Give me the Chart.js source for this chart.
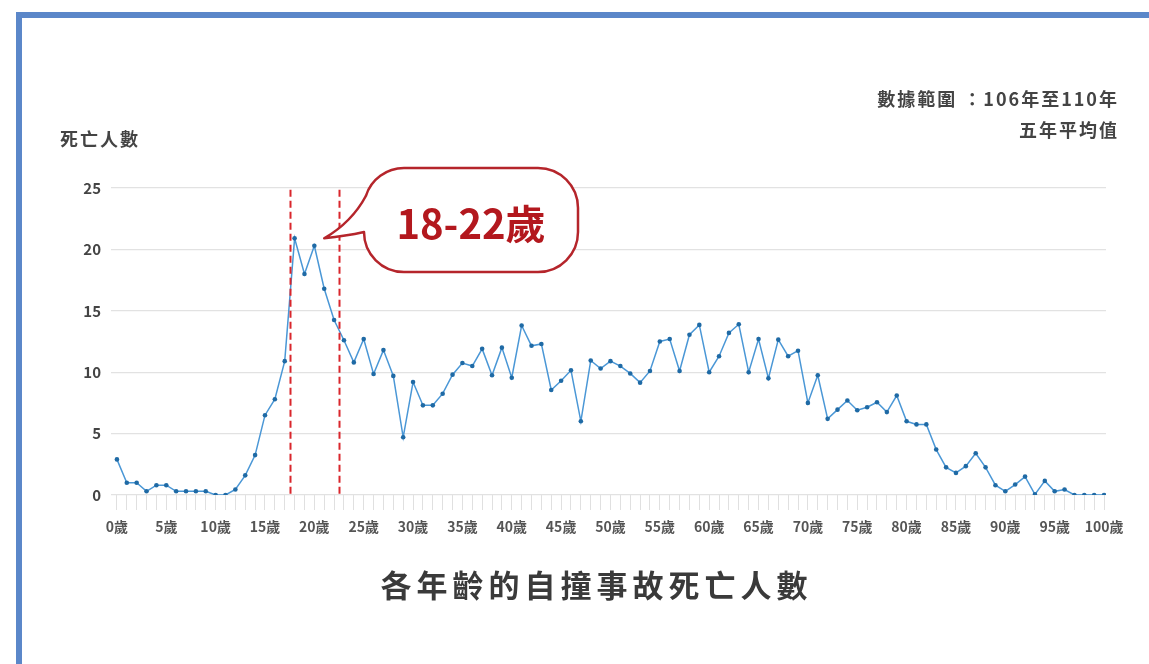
<!DOCTYPE html>
<html lang="zh-Hant">
<head>
    <meta charset="UTF-8">
    <title>各年齡的自撞事故死亡人數</title>
    <script src="https://cdn.jsdelivr.net/npm/chart.js"></script>
    <style>
        body { margin: 0; background: #fff; font-family: "Noto Sans CJK TC", "Noto Sans", sans-serif; }
        #page { position: relative; width: 1149px; height: 664px; overflow: hidden; background: #fff; }
        .frame-top { position: absolute; left: 16px; top: 12px; width: 1133px; height: 6px; background: #5b87c9; }
        .frame-left { position: absolute; left: 16px; top: 12px; width: 6px; height: 652px; background: #5b87c9; }
        #chart-container { position: absolute; left: 0; top: 0; width: 1149px; height: 664px; }
        .note { position: absolute; right: 30px; font-size: 18px; font-weight: bold; color: #444; text-align: right; letter-spacing: 2px; }
        #ytitle { position: absolute; left: 60px; top: 125px; font-size: 18px; font-weight: bold; color: #444; letter-spacing: 2px; }
        #title { position: absolute; left: 0; width: 1149px; top: 561px; text-align: center; font-size: 31px; font-weight: bold; color: #3a3a3a; letter-spacing: 5px; padding-left: 22px; }
    </style>
</head>
<body>
<div id="page">
    <div class="frame-top"></div>
    <div class="frame-left"></div>
    <div id="chart-container">
        <canvas id="ageChart"></canvas>
    </div>
    <div id="ytitle">死亡人數</div>
    <div class="note" style="top:85px;">數據範圍 ：106年至110年</div>
    <div class="note" style="top:116px;">五年平均值</div>
    <div id="title">各年齡的自撞事故死亡人數</div>
</div>

<script>
    // 年齡 0~100 歲
    const ages = [];
    for (let a = 0; a <= 100; a++) ages.push(a);

    // 五年平均死亡人數
    const deaths = [
        2.9, 1.0, 1.0, 0.3, 0.8, 0.8, 0.3, 0.3, 0.3, 0.3,
        0.0, 0.0, 0.45, 1.6, 3.25, 6.5, 7.8, 10.9, 20.9, 18.0,
        20.3, 16.8, 14.25, 12.6, 10.8, 12.7, 9.85, 11.8, 9.7, 4.7,
        9.2, 7.3, 7.3, 8.25, 9.8, 10.75, 10.5, 11.9, 9.75, 12.0,
        9.55, 13.8, 12.15, 12.3, 8.55, 9.3, 10.15, 6.0, 10.95, 10.3,
        10.9, 10.5, 9.9, 9.15, 10.1, 12.5, 12.7, 10.1, 13.05, 13.85,
        10.0, 11.3, 13.2, 13.9, 10.0, 12.7, 9.5, 12.65, 11.3, 11.75,
        7.5, 9.75, 6.2, 6.95, 7.7, 6.9, 7.15, 7.55, 6.75, 8.1,
        6.0, 5.75, 5.75, 3.7, 2.25, 1.8, 2.35, 3.4, 2.25, 0.8,
        0.3, 0.85, 1.5, 0.05, 1.15, 0.3, 0.45, 0.0, 0.0, 0.0,
        0.0
    ];

    const yTicks = [0, 5, 10, 15, 20, 25];
    const highlightRange = [17.5, 22.5];
    const highlightLabel = '18-22歲';

    const points = ages.map((a, i) => ({ x: a, y: deaths[i] }));

    // 紅色虛線與對話框
    const highlightPlugin = {
        id: 'highlight',
        afterDatasetsDraw(chart) {
            const ctx = chart.ctx;
            const xs = chart.scales.x;
            const ys = chart.scales.y;
            const top = ys.getPixelForValue(24.85);
            const bottom = ys.getPixelForValue(0.05);
            ctx.save();
            ctx.strokeStyle = '#d9262c';
            ctx.lineWidth = 2;
            ctx.setLineDash([7, 4]);
            highlightRange.forEach(v => {
                const px = Math.round(xs.getPixelForValue(v)) + 0.5;
                ctx.beginPath();
                ctx.moveTo(px, top);
                ctx.lineTo(px, bottom);
                ctx.stroke();
            });
            ctx.setLineDash([]);

            // 對話框
            const left = 364, right = 578, btop = 168, bbot = 272, r = 40;
            const cx = left + r, cy = btop + r;
            const a0 = Math.PI + Math.asin(12 / r);
            const tipX = xs.getPixelForValue(21.0), tipY = ys.getPixelForValue(20.9);
            ctx.beginPath();
            ctx.moveTo(tipX, tipY);
            ctx.quadraticCurveTo(352, 222, cx + r * Math.cos(a0), cy + r * Math.sin(a0));
            ctx.arc(cx, cy, r, a0, Math.PI * 1.5);
            ctx.lineTo(right - r, btop);
            ctx.arc(right - r, btop + r, r, Math.PI * 1.5, Math.PI * 2);
            ctx.lineTo(right, bbot - r);
            ctx.arc(right - r, bbot - r, r, 0, Math.PI * 0.5);
            ctx.lineTo(left + r, bbot);
            ctx.arc(left + r, bbot - r, r, Math.PI * 0.5, Math.PI);
            ctx.quadraticCurveTo(346, 236, tipX, tipY);
            ctx.closePath();
            ctx.fillStyle = '#ffffff';
            ctx.fill();
            ctx.strokeStyle = '#b5252b';
            ctx.lineWidth = 2.5;
            ctx.lineJoin = 'round';
            ctx.stroke();

            ctx.fillStyle = '#b3181e';
            ctx.font = 'bold 40px "Noto Sans CJK TC"';
            ctx.textAlign = 'center';
            ctx.textBaseline = 'middle';
            ctx.fillText(highlightLabel, 471, 224);
            ctx.restore();
        }
    };

    const ctx = document.getElementById('ageChart').getContext('2d');
    new Chart(ctx, {
        type: 'line',
        data: {
            datasets: [{
                data: points,
                borderColor: '#4a97d6',
                borderWidth: 1.5,
                pointRadius: 2.3,
                pointBackgroundColor: '#1f6aa5',
                pointBorderColor: '#1f6aa5',
                pointBorderWidth: 0,
                tension: 0
            }]
        },
        options: {
            responsive: true,
            maintainAspectRatio: false,
            animation: false,
            events: [],
            layout: { padding: { left: 61, top: 188, right: 43, bottom: 119 } },
            plugins: { legend: { display: false }, tooltip: { enabled: false } },
            scales: {
                x: {
                    type: 'linear',
                    min: -0.6,
                    max: 100.2,
                    afterFit(scale) { scale.height = 50; },
                    afterBuildTicks(scale) { scale.ticks = ages.map(v => ({ value: v })); },
                    border: { display: false },
                    grid: { drawOnChartArea: false, drawTicks: true, tickLength: 15, color: '#e0e0e0', lineWidth: 1 },
                    ticks: {
                        autoSkip: false,
                        maxRotation: 0,
                        padding: 8,
                        color: '#555',
                        font: { family: '"Noto Sans CJK TC"', size: 14, weight: 'bold' },
                        callback: v => (v % 5 === 0 ? v + '歲' : '')
                    }
                },
                y: {
                    min: 0,
                    max: 25,
                    afterFit(scale) { scale.width = 50; },
                    afterBuildTicks(scale) { scale.ticks = yTicks.map(v => ({ value: v })); },
                    border: { display: false },
                    grid: { drawTicks: false, color: '#e2e2e2', lineWidth: 1.3 },
                    ticks: {
                        padding: 10,
                        color: '#444',
                        font: { family: '"Noto Sans CJK TC"', size: 15, weight: 'bold' }
                    }
                }
            }
        },
        plugins: [highlightPlugin]
    });
</script>
</body>
</html>
